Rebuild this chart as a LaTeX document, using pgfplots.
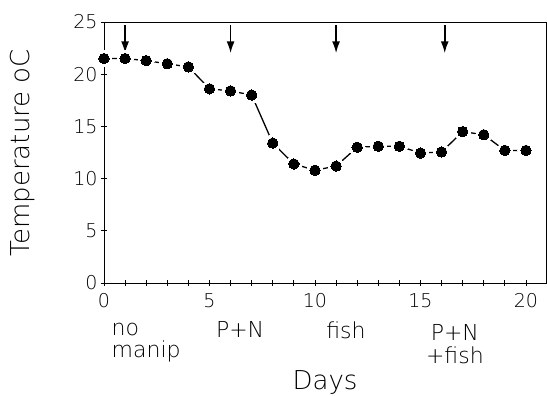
\documentclass[border=0pt]{standalone}
\usepackage{pgfplots}
\pgfplotsset{compat=1.18}
\usepackage{pgfplotstable}
\usepackage{fontspec}
\setmainfont{DejaVu Sans ExtraLight}
\usetikzlibrary{calc,arrows.meta}
\newcommand\lab{\fontsize{22bp}{22bp}\selectfont}
\newcommand\axlab{\fontsize{26bp}{26bp}\selectfont}
\pgfplotstableread{
x y
0 21.5
1 21.5
2 21.3
3 21.0
4 20.7
5 18.6
6 18.4
7 18.0
8 13.4
9 11.4
10 10.8
11 11.2
12 13.0
13 13.1
14 13.1
15 12.45
16 12.55
17 14.5
18 14.2
19 12.7
20 12.7
}\temp
\begin{document}
\begin{tikzpicture}
\begin{axis}[name=ax, scale only axis, width=442bp, height=261bp,
 xmin=0, xmax=20.95, ymin=0, ymax=25,
 xtick={0,5,...,20},
 minor xtick={1,2,3,4,6,7,8,9,11,12,13,14,16,17,18,19},
 ytick={0,5,...,25},
 tick align=center, major tick length=6bp, minor tick length=6bp,
 xtick pos=bottom, ytick pos=left,
 tick style={black, line width=0.8bp},
 axis line style={line width=0.8bp},
 ticklabel style={font=\fontsize{19bp}{19bp}\selectfont},
 xticklabel style={yshift=-4bp},
 /pgf/number format/assume math mode=true,
 clip=false,
]
\addplot[black, line width=1.3bp] table[x=x,y=y] {\temp};
\addplot[white, only marks, mark=*, mark size=8bp, mark options={fill=white, draw=white, line width=0pt}] table[x=x,y=y] {\temp};
\draw[line width=0.8bp] (rel axis cs:0,0) -- (rel axis cs:0,1);
\addplot[black, only marks, mark=*, mark size=5.2bp, mark options={fill=black, draw=black, line width=0pt}] table[x=x,y=y] {\temp};
\draw[line width=1.8bp, -{Latex[length=12bp,width=8bp]}] (axis cs:1,24.7) -- (axis cs:1,22.0);
\draw[line width=1.8bp, -{Latex[length=12bp,width=8bp]}] (axis cs:6,24.7) -- (axis cs:6,22.0);
\draw[line width=1.8bp, -{Latex[length=12bp,width=8bp]}] (axis cs:11,24.7) -- (axis cs:11,22.0);
\draw[line width=1.8bp, -{Latex[length=12bp,width=8bp]}] (axis cs:16.15,24.7) -- (axis cs:16.15,22.0);
\node[anchor=base west, font=\lab] at ([yshift=-52bp]axis cs:0.2,0) {no};
\node[anchor=base west, font=\lab] at ([yshift=-74bp]axis cs:0.2,0) {manip};
\node[anchor=base, font=\lab] at ([yshift=-54bp]axis cs:6.45,0) {P+N};
\node[anchor=base, font=\lab] at ([yshift=-55bp]axis cs:11.47,0) {fish};
\node[anchor=base, font=\lab] at ([yshift=-57bp]axis cs:16.63,0) {P+N};
\node[anchor=base, font=\lab] at ([yshift=-80bp]axis cs:16.63,0) {+fish};
\node[anchor=base, font=\axlab] at ([yshift=-106bp]rel axis cs:0.5,0) {Days};
\node[rotate=90, anchor=center, font=\axlab] at ([xshift=-81bp]rel axis cs:0,0.5) {Temperature oC};
\end{axis}
\pgfresetboundingbox
\path ($(ax.south west)+(-104bp,-113bp)$) rectangle ($(ax.north east)+(1bp,22bp)$);
\end{tikzpicture}
\end{document}
